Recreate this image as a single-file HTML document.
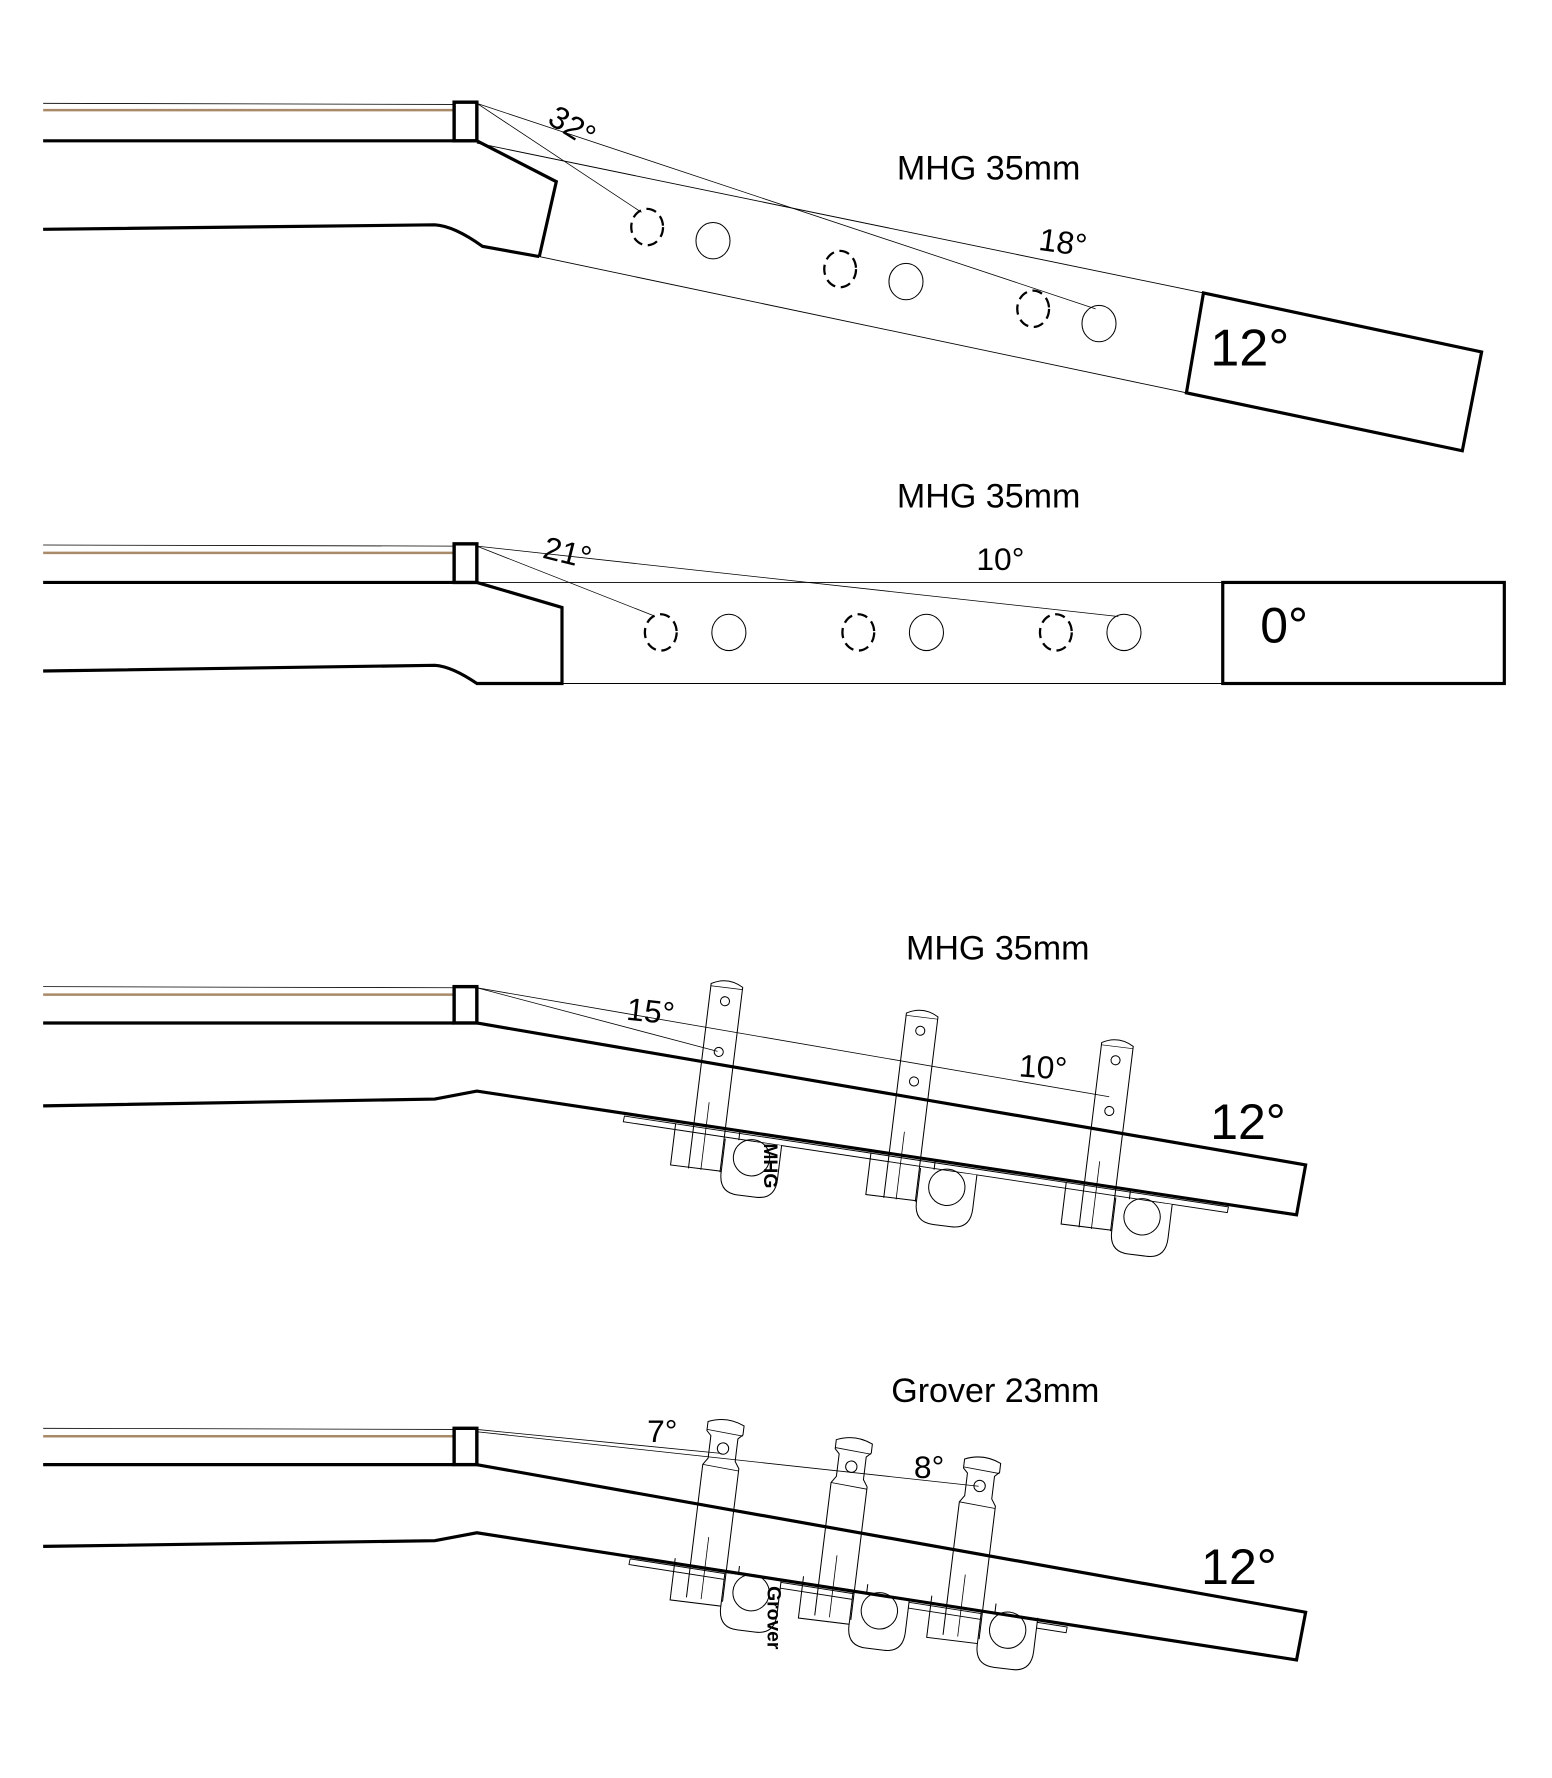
<!DOCTYPE html>
<html><head><meta charset="utf-8"><style>
html,body{margin:0;padding:0;background:#fff;}
svg{display:block;}
text{font-family:"Liberation Sans",sans-serif;fill:#000;}
</style></head><body>
<svg width="1552" height="1778" viewBox="0 0 1367 1566" preserveAspectRatio="none" xmlns="http://www.w3.org/2000/svg">
<defs>
<g id="mhg">
  <path d="M-30,132 L-30,169 L27,169 L27,132" fill="none" stroke="#000" stroke-width="0.9"/>
  <path d="M15,140 L15,170 Q15,188 32,188 L48,188 Q65,188 65,170 L65,140" fill="#fff" stroke="#000" stroke-width="0.9"/>
  <circle cx="40" cy="154" r="16" fill="none" stroke="#000" stroke-width="0.9"/>
  <path d="M-14,170 L-14,6 Q0,-2 14,6 L14,170" fill="none" stroke="#000" stroke-width="0.9"/>
  <line x1="-14" y1="8" x2="14" y2="8" stroke="#000" stroke-width="0.6"/>
  <circle cx="0" cy="20" r="4" fill="none" stroke="#000" stroke-width="0.9"/>
  <circle cx="0" cy="65" r="4" fill="none" stroke="#000" stroke-width="0.9"/>
  <line x1="-3" y1="110" x2="-3" y2="170" stroke="#000" stroke-width="0.7"/>
</g>
<g id="grv">
  <path d="M-30,127 L-30,164 L27,164 L27,127" fill="none" stroke="#000" stroke-width="0.9"/>
  <path d="M15,135 L15,165 Q15,183 32,183 L48,183 Q65,183 65,165 L65,135" fill="#fff" stroke="#000" stroke-width="0.9"/>
  <circle cx="40" cy="149" r="16" fill="none" stroke="#000" stroke-width="0.9"/>
  <path d="M-16,160 L-16,42 L-12,36 L-12,16 L-16,12 L-16,4 Q0,-3 16,4 L16,12 L12,16 L12,36 L16,42 L16,160" fill="none" stroke="#000" stroke-width="0.9"/>
  <line x1="-16" y1="11" x2="16" y2="13" stroke="#000" stroke-width="0.7"/>
  <line x1="-16" y1="42" x2="16" y2="44" stroke="#000" stroke-width="0.7"/>
  <circle cx="0" cy="26" r="5" fill="none" stroke="#000" stroke-width="0.9"/>
  <line x1="-3" y1="105" x2="-3" y2="160" stroke="#000" stroke-width="0.7"/>
</g>
</defs>

<!-- ===== Diagram 1 ===== -->
<line x1="38" y1="91" x2="400" y2="92" stroke="#000" stroke-width="0.7"/>
<line x1="38" y1="97" x2="400" y2="97" stroke="#a98a68" stroke-width="2.2"/>
<line x1="38" y1="124" x2="400" y2="124" stroke="#000" stroke-width="2.8"/>
<rect x="400" y="90" width="20" height="34" fill="none" stroke="#000" stroke-width="3"/>
<path d="M38,202 L383,198 Q400,199 425,217 L475,226" fill="none" stroke="#000" stroke-width="2.8"/>
<path d="M420,124 L490,160 L475,226" fill="none" stroke="#000" stroke-width="2.8"/>
<line x1="420" y1="126" x2="1060" y2="258" stroke="#000" stroke-width="0.8"/>
<line x1="475" y1="226" x2="1045" y2="346" stroke="#000" stroke-width="0.8"/>
<polygon points="1060,258 1305,310 1288,397 1045,346" fill="none" stroke="#000" stroke-width="2.8"/>
<line x1="420" y1="91" x2="565" y2="187" stroke="#000" stroke-width="0.7"/>
<line x1="420" y1="91" x2="965" y2="272" stroke="#000" stroke-width="0.7"/>
<g fill="none" stroke="#000" stroke-width="2" stroke-dasharray="9,5">
<ellipse cx="570" cy="200" rx="14" ry="16"/><ellipse cx="740" cy="237" rx="14" ry="16"/><ellipse cx="910" cy="272" rx="14" ry="16"/>
</g>
<g fill="none" stroke="#000" stroke-width="0.9">
<ellipse cx="628" cy="212" rx="15" ry="16"/><ellipse cx="798" cy="248" rx="15" ry="16"/><ellipse cx="968" cy="285" rx="15" ry="16"/>
</g>
<text x="790" y="158" font-size="30">MHG 35mm</text>
<text transform="translate(481,108) rotate(32)" font-size="28">32°</text>
<text transform="translate(914,220) rotate(8)" font-size="28">18°</text>
<text x="1066" y="322" font-size="46">12°</text>

<!-- ===== Diagram 2 ===== -->
<line x1="38" y1="480" x2="400" y2="481" stroke="#000" stroke-width="0.7"/>
<line x1="38" y1="487" x2="400" y2="487" stroke="#a98a68" stroke-width="2.2"/>
<line x1="38" y1="513" x2="400" y2="513" stroke="#000" stroke-width="2.8"/>
<rect x="400" y="479" width="20" height="34" fill="none" stroke="#000" stroke-width="3"/>
<path d="M38,591 L383,586 Q398,587 420,602 L495,602 L495,535 L420,513" fill="none" stroke="#000" stroke-width="2.8"/>
<line x1="420" y1="513" x2="1077" y2="513" stroke="#000" stroke-width="0.8"/>
<line x1="495" y1="602" x2="1077" y2="602" stroke="#000" stroke-width="0.8"/>
<rect x="1077" y="513" width="248" height="89" fill="none" stroke="#000" stroke-width="2.8"/>
<line x1="420" y1="481" x2="575" y2="542" stroke="#000" stroke-width="0.7"/>
<line x1="420" y1="481" x2="985" y2="543" stroke="#000" stroke-width="0.7"/>
<g fill="none" stroke="#000" stroke-width="2" stroke-dasharray="9,5">
<ellipse cx="582" cy="557" rx="14" ry="16"/><ellipse cx="756" cy="557" rx="14" ry="16"/><ellipse cx="930" cy="557" rx="14" ry="16"/>
</g>
<g fill="none" stroke="#000" stroke-width="0.9">
<ellipse cx="642" cy="557" rx="15" ry="16"/><ellipse cx="816" cy="557" rx="15" ry="16"/><ellipse cx="990" cy="557" rx="15" ry="16"/>
</g>
<text x="790" y="447" font-size="30">MHG 35mm</text>
<text transform="translate(477,491) rotate(14)" font-size="28">21°</text>
<text x="860" y="502" font-size="28">10°</text>
<text x="1110" y="566" font-size="44">0°</text>

<!-- ===== Diagram 3 ===== -->
<line x1="38" y1="869" x2="400" y2="870" stroke="#000" stroke-width="0.7"/>
<line x1="38" y1="876" x2="400" y2="876" stroke="#a98a68" stroke-width="2.2"/>
<line x1="38" y1="901" x2="400" y2="901" stroke="#000" stroke-width="2.8"/>
<polygon points="550,983 1082,1063 1081,1068 549,988" fill="#fff" stroke="#000" stroke-width="0.8"/>
<use href="#mhg" transform="translate(641,862) rotate(7)"/>
<use href="#mhg" transform="translate(813,888) rotate(7)"/>
<use href="#mhg" transform="translate(985,914) rotate(7)"/>
<rect x="400" y="869" width="20" height="32" fill="none" stroke="#000" stroke-width="3"/>
<path d="M38,974 L383,968 L420,961 L1142,1070 L1150,1026 L420,901" fill="none" stroke="#000" stroke-width="2.8"/>
<line x1="420" y1="870" x2="632" y2="926" stroke="#000" stroke-width="0.7"/>
<line x1="420" y1="870" x2="977" y2="966" stroke="#000" stroke-width="0.7"/>
<text x="798" y="845" font-size="30">MHG 35mm</text>
<text transform="translate(551,898) rotate(6)" font-size="28">15°</text>
<text transform="translate(897,948) rotate(4)" font-size="28">10°</text>
<text x="1066" y="1003" font-size="44">12°</text>
<text transform="translate(673,1007) rotate(90)" font-size="17" font-weight="bold">MHG</text>

<!-- ===== Diagram 4 ===== -->
<line x1="38" y1="1258" x2="400" y2="1259" stroke="#000" stroke-width="0.7"/>
<line x1="38" y1="1265" x2="400" y2="1265" stroke="#a98a68" stroke-width="2.2"/>
<line x1="38" y1="1290" x2="400" y2="1290" stroke="#000" stroke-width="2.8"/>
<polygon points="555,1373 940,1433 939,1438 554,1378" fill="#fff" stroke="#000" stroke-width="0.8"/>
<use href="#grv" transform="translate(640,1250) rotate(7)"/>
<use href="#grv" transform="translate(753,1266) rotate(7)"/>
<use href="#grv" transform="translate(866,1283) rotate(7)"/>
<rect x="400" y="1258" width="20" height="32" fill="none" stroke="#000" stroke-width="3"/>
<path d="M38,1362 L383,1357 L420,1350 L1142,1462 L1150,1420 L420,1290" fill="none" stroke="#000" stroke-width="2.8"/>
<line x1="420" y1="1259" x2="634" y2="1280" stroke="#000" stroke-width="0.7"/>
<line x1="420" y1="1261" x2="862" y2="1309" stroke="#000" stroke-width="0.7"/>
<text x="785" y="1235" font-size="30">Grover 23mm</text>
<text x="570" y="1270" font-size="28">7°</text>
<text x="805" y="1302" font-size="28">8°</text>
<text x="1058" y="1395" font-size="44">12°</text>
<text transform="translate(676,1397) rotate(90)" font-size="17" font-weight="bold">Grover</text>
</svg>
</body></html>
